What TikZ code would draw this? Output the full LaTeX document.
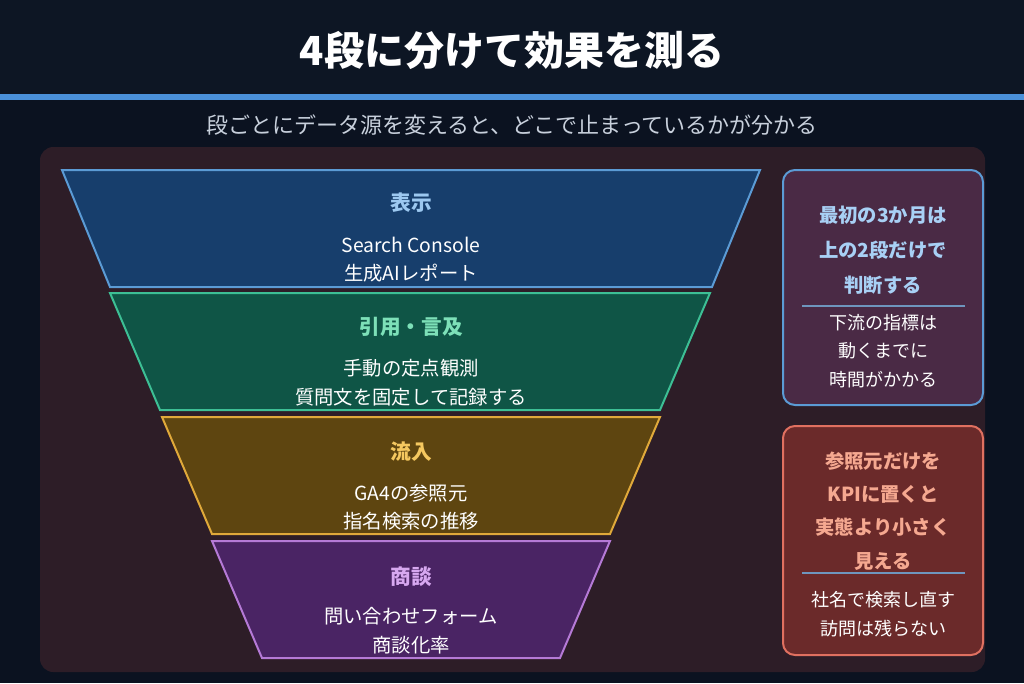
\documentclass[tikz,border=0pt]{standalone}
\usepackage{fontspec}
\setmainfont{Noto Sans CJK JP}
\begin{document}
\begin{tikzpicture}[x=0.75pt,y=-0.75pt,
  stage/.style={line width=1.5pt},
  ttl/.style={font=\fontsize{15.5}{18}\selectfont\bfseries},
  body/.style={font=\fontsize{14.5}{16}\selectfont,text=white},
  side/.style={font=\fontsize{14.5}{16}\selectfont\bfseries},
  sbody/.style={font=\fontsize{13.5}{15}\selectfont,text=white}]
\definecolor{bg}{HTML}{0B1220}
\definecolor{panel}{HTML}{2D1D27}
\fill[bg] (0,0) rectangle (1024,683);
\fill[color={rgb,255:red,13;green,22;blue,36}] (0,0) rectangle (1024,96);
\useasboundingbox (0,0) rectangle (1024,683);
\fill[color={rgb,255:red,74;green,144;blue,217}] (0,94) rectangle (1024,100);
\node[font=\fontsize{30}{34}\selectfont\bfseries,text=white] (title) at (512,50) {4段に分けて効果を測る};
\node[font=\fontsize{16.5}{19}\selectfont,text={rgb,255:red,200;green,208;blue,220}] (sub) at (512,125) {段ごとにデータ源を変えると、どこで止まっているかが分かる};
\fill[panel,rounded corners=10] (40,147) rectangle (985,672);
\definecolor{f1}{HTML}{173E6C}\definecolor{b1}{HTML}{5B9BD5}
\definecolor{f2}{HTML}{0F5546}\definecolor{b2}{HTML}{3DBF95}
\definecolor{f3}{HTML}{5E4510}\definecolor{b3}{HTML}{E0A93A}
\definecolor{f4}{HTML}{4A2464}\definecolor{b4}{HTML}{B57AD6}
\draw[stage,fill=f1,draw=b1] (62,170) -- (760,170) -- (712,287) -- (110,287) -- cycle;
\draw[stage,fill=f2,draw=b2] (110,293) -- (710,293) -- (660,410) -- (160,410) -- cycle;
\draw[stage,fill=f3,draw=b3] (162,417) -- (660,417) -- (610,534) -- (212,534) -- cycle;
\draw[stage,fill=f4,draw=b4] (212,541) -- (610,541) -- (560,658) -- (262,658) -- cycle;
\node[ttl,text={rgb,255:red,156;green,200;blue,240}] (t1) at (411,203) {表示};
\node[body] (a1) at (411,245) {Search Console};
\node[body] (a2) at (411,273) {生成AIレポート};
\node[ttl,text={rgb,255:red,125;green,224;blue,184}] (t2) at (411,327) {引用・言及};
\node[body] (b1n) at (411,368) {手動の定点観測};
\node[body] (b2n) at (411,397) {質問文を固定して記録する};
\node[ttl,text={rgb,255:red,245;green,200;blue,96}] (t3) at (411,452) {流入};
\node[body] (c1) at (411,493) {GA4の参照元};
\node[body] (c2) at (411,521) {指名検索の推移};
\node[ttl,text={rgb,255:red,215;green,168;blue,240}] (t4) at (411,577) {商談};
\node[body] (d1) at (411,616) {問い合わせフォーム};
\node[body] (d2) at (411,645) {商談化率};
\draw[line width=1.5pt,draw=b1,fill={rgb,255:red,74;green,42;blue,69},rounded corners=9] (783,170) rectangle (983,405);
\begin{scope}[text={rgb,255:red,168;green,208;blue,245}]
\node[side] (s1) at (883,215) {最初の3か月は};
\node[side] (s2) at (883,250) {上の2段だけで};
\node[side] (s3) at (883,285) {判断する};
\end{scope}
\draw[draw={rgb,255:red,110;green,150;blue,190},line width=1pt] (802,306) -- (965,306);
\node[sbody] (s4) at (883,323) {下流の指標は};
\node[sbody] (s5) at (883,351) {動くまでに};
\node[sbody] (s6) at (883,380) {時間がかかる};
\draw[line width=1.5pt,draw={rgb,255:red,224;green,112;blue,96},fill={rgb,255:red,107;green,42;blue,42},rounded corners=9] (783,426) rectangle (983,655);
\begin{scope}[text={rgb,255:red,245;green,168;blue,144}]
\node[side] (r1) at (883,461) {参照元だけを};
\node[side] (r2) at (883,494) {KPIに置くと};
\node[side] (r3) at (883,527) {実態より小さく};
\node[side] (r4) at (883,561) {見える};
\end{scope}
\draw[draw={rgb,255:red,110;green,150;blue,190},line width=1pt] (802,573) -- (965,573);
\node[sbody] (r5) at (883,600) {社名で検索し直す};
\node[sbody] (r6) at (883,629) {訪問は残らない};
\end{tikzpicture}
\end{document}
